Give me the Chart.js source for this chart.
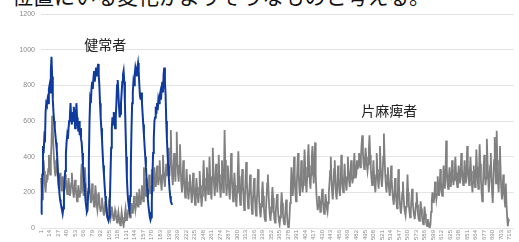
<!DOCTYPE html>
<html>
<head>
<meta charset="utf-8">
<script src="https://cdn.jsdelivr.net/npm/chart.js@4"></script>
<style>
  html, body { margin: 0; padding: 0; background: #fff; }
  #wrap { position: relative; width: 519px; height: 242px; overflow: hidden; }
  #caption {
    position: absolute; left: 12px; top: -20px;
    font: 21px "Noto Sans CJK JP", sans-serif; color: #111; white-space: nowrap;
  }
  canvas { position: absolute; left: 0; top: 0; }
</style>
</head>
<body>
<div id="wrap">
  <div id="caption">位置にいる変化がよりそうなものと考える。</div>
  <canvas id="chart" width="519" height="242"></canvas>
</div>
<script>
// 健常者 (blue), samples 1..201
const healthy = [
  80, 150, 300, 460, 420, 500, 480, 650, 700, 690, 720, 700, 780, 800, 760, 880, 960, 850, 720, 650,
  600, 560, 520, 480, 440, 380, 300, 250, 200, 160, 140, 120, 100, 80, 110, 200, 280, 320, 420, 480,
  520, 500, 560, 600, 620, 700, 620, 580, 650, 600, 680, 640, 560, 600, 700, 620, 580, 540, 600, 520,
  560, 500, 480, 420, 350, 300, 250, 200, 150, 120, 90, 100, 200, 380, 600, 720, 700, 780, 820, 780,
  840, 880, 820, 860, 900, 850, 880, 920, 860, 800, 700, 620, 560, 500, 420, 350, 300, 240, 180, 140,
  100, 70, 50, 40, 60, 150, 300, 450, 560, 620, 580, 650, 600, 560, 620, 700, 800, 830, 760, 680,
  620, 640, 700, 760, 820, 860, 880, 820, 700, 550, 400, 280, 200, 150, 120, 100, 180, 350, 550, 700,
  760, 820, 800, 860, 900, 880, 850, 900, 925, 880, 800, 740, 720, 760, 700, 640, 580, 520, 460, 400,
  340, 280, 220, 160, 120, 90, 60, 45, 60, 150, 300, 420, 500, 600, 620, 680, 640, 700, 660, 720,
  700, 740, 760, 720, 780, 820, 760, 860, 900, 820, 750, 600, 500, 420, 350, 280, 220, 180, 150, 140,
  130
];

// 片麻痺者 (gray), samples 1..716
const hemiplegic = [
  280, 200, 160, 250, 380, 320, 240, 200, 260, 300, 270, 330, 410, 350, 300, 380, 480, 630, 560, 450,
  380, 320, 290, 340, 390, 330, 260, 220, 270, 310, 260, 210, 240, 290, 250, 200, 230, 300, 270, 220,
  190, 240, 280, 230, 180, 200, 250, 310, 260, 200, 170, 210, 270, 230, 180, 150, 190, 240, 210, 170,
  200, 290, 360, 280, 210, 180, 230, 340, 260, 190, 150, 170, 220, 300, 240, 180, 140, 160, 250, 200,
  150, 120, 160, 240, 190, 130, 100, 140, 200, 160, 110, 90, 120, 170, 130, 90, 70, 100, 150, 110,
  80, 60, 90, 130, 100, 70, 50, 80, 120, 90, 60, 40, 70, 100, 80, 50, 30, 60, 90, 60,
  30, 15, 50, 90, 60, 30, 10, 40, 80, 110, 70, 40, 60, 100, 130, 90, 60, 90, 140, 110,
  80, 120, 180, 140, 100, 130, 200, 160, 120, 150, 220, 180, 130, 170, 240, 190, 150, 340, 260, 180,
  210, 280, 220, 170, 200, 300, 240, 190, 230, 330, 270, 210, 250, 340, 280, 230, 260, 350, 290, 240,
  280, 380, 300, 250, 210, 290, 410, 320, 260, 230, 300, 360, 290, 330, 450, 350, 290, 420, 550, 380,
  290, 240, 320, 420, 330, 260, 400, 540, 380, 300, 260, 350, 470, 340, 250, 200, 260, 380, 290, 220,
  170, 240, 330, 260, 200, 160, 220, 300, 250, 190, 140, 200, 310, 250, 180, 130, 190, 280, 230, 170,
  140, 190, 320, 240, 170, 120, 180, 260, 380, 280, 200, 150, 230, 340, 260, 190, 240, 400, 290, 200,
  160, 280, 450, 330, 240, 180, 260, 360, 270, 200, 300, 410, 300, 220, 170, 250, 380, 280, 200, 260,
  550, 380, 250, 180, 240, 350, 270, 200, 160, 280, 420, 300, 210, 150, 220, 310, 240, 170, 120, 200,
  300, 430, 290, 190, 130, 180, 250, 330, 240, 160, 100, 170, 280, 370, 260, 170, 110, 160, 230, 300,
  220, 140, 80, 130, 210, 280, 200, 120, 70, 130, 220, 330, 230, 140, 90, 60, 120, 200, 260, 180,
  110, 60, 40, 100, 170, 250, 300, 210, 120, 70, 40, 90, 160, 230, 170, 100, 50, 30, 80, 140,
  190, 130, 70, 40, 20, 60, 120, 200, 140, 80, 40, 20, 50, 110, 160, 90, 30, 5, 0, 60,
  140, 230, 340, 260, 180, 250, 400, 300, 200, 150, 230, 330, 420, 310, 220, 180, 260, 380, 280, 200,
  240, 330, 440, 340, 250, 200, 290, 390, 470, 350, 260, 220, 300, 400, 460, 330, 250, 380, 480, 300,
  200, 140, 100, 130, 180, 140, 90, 120, 170, 220, 150, 100, 80, 130, 190, 150, 110, 90, 140, 200,
  250, 320, 400,
  280, 200, 160, 230, 330, 380, 260, 190, 160, 250, 350, 280, 210, 180, 260, 410, 300, 230, 200, 270,
  360, 290, 240, 210, 280, 400, 320, 260, 230, 300, 380, 300, 250, 280, 350, 420, 330, 280, 300, 380,
  330,
  350, 420, 380, 340, 400, 470, 520, 420, 360, 330, 380, 450, 400, 350, 320, 360, 440, 520, 410, 330,
  280, 240, 300, 380, 300, 240, 200, 280, 420, 330, 260, 220, 300, 460, 350, 270, 230, 290, 400, 530,
  400, 300, 240, 200, 260, 340, 270, 210, 180, 240,
  350, 270, 200, 160, 130, 190, 280, 210, 150, 110, 160, 330, 240, 160, 110, 80, 130, 200, 260, 180,
  120, 90, 70, 120, 180, 300, 200, 130, 90, 60, 100, 160, 220, 150, 100, 70, 50, 90, 140, 200,
  130, 80, 50, 40, 90, 150, 110, 70, 40, 20, 60, 120, 80, 40, 20, 10, 50, 30, 10, 0,
  20,
  90, 150, 200, 170, 140, 180, 260, 200, 160, 190, 290, 230, 180, 220, 330, 260, 200, 180, 240, 350,
  280, 220, 300, 490, 330, 250, 220, 280, 340, 270,
  230, 280, 380, 300, 240, 270, 320, 400, 310, 260, 230, 280, 350, 290, 250, 300, 420, 330, 270, 240,
  290, 380, 300, 250, 300, 460, 350, 280, 240, 310, 400, 320, 260, 200, 260, 350, 290, 230, 280, 440,
  340, 270, 220, 300, 470, 360, 270, 200, 150, 230, 330, 410, 300, 240, 280, 500, 380, 280, 200, 260,
  350, 420, 300, 200, 140, 260, 380, 510, 360, 250, 545,
  380, 260, 200, 300, 460, 320, 220, 160, 200, 300, 240, 160, 120, 250, 130, 60, 10, 40, 50, 50
];

// sample numbers on the x axis, every 13th one is shown
const sampleCount = 722;
const xLabels = Array.from({ length: sampleCount }, (_, i) => String(i + 1));
const yTicks = [0, 200, 400, 600, 800, 1000, 1200];

// series names written inside the plot
const notes = [
  { text: '健常者', at: 98, value: 1030 },
  { text: '片麻痺者', at: 531, value: 660 }
];

const notePlugin = {
  id: 'notes',
  afterDatasetsDraw(chart) {
    const { ctx, scales } = chart;
    ctx.save();
    ctx.font = '14px "Noto Sans CJK JP", sans-serif';
    ctx.fillStyle = '#222';
    ctx.textAlign = 'center';
    ctx.textBaseline = 'middle';
    notes.forEach(n => {
      ctx.fillText(n.text, scales.x.getPixelForValue(n.at), scales.y.getPixelForValue(n.value));
    });
    ctx.restore();
  }
};

const ctx = document.getElementById('chart').getContext('2d');
new Chart(ctx, {
  type: 'line',
  data: {
    labels: xLabels,
    datasets: [
      {
        label: '健常者',
        data: healthy,
        borderColor: '#0f3b9f',
        borderWidth: 2,
        pointRadius: 0,
        tension: 0,
        order: 0
      },
      {
        label: '片麻痺者',
        data: hemiplegic,
        borderColor: '#808080',
        borderWidth: 1.8,
        pointRadius: 0,
        tension: 0,
        order: 1
      }
    ]
  },
  options: {
    responsive: false,
    animation: false,
    events: [],
    layout: { padding: { top: 14, right: 2, left: 0, bottom: 0 } },
    plugins: {
      legend: { display: false },
      tooltip: { enabled: false }
    },
    scales: {
      x: {
        grid: { display: false, drawTicks: false },
        border: { display: false },
        afterFit: s => { s.height = 14; },
        ticks: {
          autoSkip: false,
          maxRotation: 90,
          minRotation: 90,
          padding: 2,
          color: '#888',
          font: { family: 'Liberation Sans', size: 6 },
          callback: (v, i) => (i % 13 === 0 ? xLabels[i] : null)
        }
      },
      y: {
        min: 0,
        max: 1200,
        afterFit: s => { s.width = 41; },
        afterBuildTicks: s => { s.ticks = yTicks.map(v => ({ value: v })); },
        grid: { color: '#e4e4e4', drawTicks: false },
        border: { display: false },
        ticks: {
          padding: 6,
          color: '#888',
          font: { family: 'Liberation Sans', size: 7 },
          callback: v => String(v)
        }
      }
    }
  },
  plugins: [notePlugin]
});
</script>
</body>
</html>
